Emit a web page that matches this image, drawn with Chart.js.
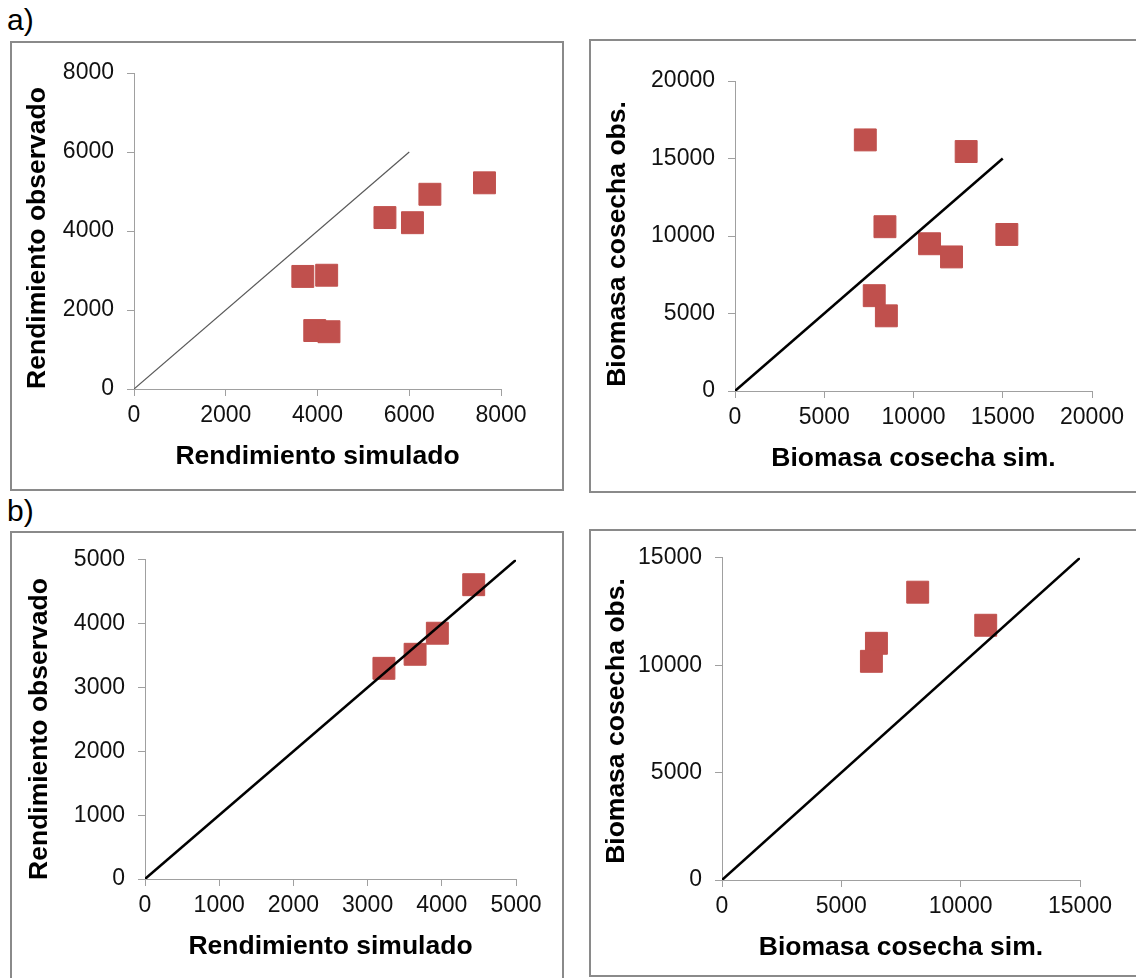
<!DOCTYPE html>
<html>
<head>
<meta charset="utf-8">
<script src="https://cdn.jsdelivr.net/npm/chart.js@4.4.1/dist/chart.umd.min.js"></script>
<style>
  body { margin: 0; width: 1136px; height: 978px; overflow: hidden; background: #fff; position: relative;
         font-family: "Liberation Sans", Arial, sans-serif; }
  canvas { position: absolute; }
  .frame { position: absolute; box-sizing: border-box; border: 2px solid #8a8a8a; pointer-events: none; }
  .tag { position: absolute; font-size: 30px; line-height: 1; color: #000; }
</style>
</head>
<body>
<div class="tag" style="left:7px; top:5px;">a)</div>
<div class="tag" style="left:7px; top:496px;">b)</div>

<script>
// Simulated vs observed values, one pair of arrays per panel
const simA = [3680, 4200, 3940, 4250, 5470, 6070, 6450, 7640];
const obsA = [2850, 2880, 1480, 1450, 4340, 4210, 4930, 5220];

const simB = [7300, 12950, 8400, 10900, 12130, 15230, 7800, 8480];
const obsB = [16200, 15450, 10600, 9500, 8650, 10100, 6150, 4850];

const simC = [3220, 3640, 3940, 4430];
const obsC = [3300, 3520, 3850, 4610];

const simD = [8200, 11050, 6470, 6260];
const obsD = [13400, 11860, 11020, 10180];

// 1:1 reference line extent (start, end) for each panel
const diagA = [0, 6000];
const diagB = [0, 15000];
const diagC = [0, 5000];
const diagD = [0, 15000];

// Axis tick values
const ticksA = [0, 2000, 4000, 6000, 8000];
const ticksB = [0, 5000, 10000, 15000, 20000];
const ticksC = [0, 1000, 2000, 3000, 4000, 5000];
const ticksD = [0, 5000, 10000, 15000];

const yieldX = 'Rendimiento simulado';
const yieldY = 'Rendimiento observado';
const bioX = 'Biomasa cosecha sim.';
const bioY = 'Biomasa cosecha obs.';

const FONT = '"Liberation Sans", Arial, sans-serif';
const TICK_SIZE = 23;
const TITLE_SIZE = 26.5;
const AXIS_GREY = '#a0a0a0';
const MARK_RED = '#C0504D';

// Page layout of the four framed panels (frame box, plot area, axis title centres)
const panels = [
  { sim: simA, obs: obsA, diag: diagA, ticks: ticksA, xTitle: yieldX, yTitle: yieldY,
    frame: { x: 10, y: 41, w: 554, h: 450 },
    box: { x: 12, y: 43, w: 550, h: 446 },
    area: { l: 134, t: 73, r: 501, b: 389 }, yTitlePos: [38, 238], xTitleY: 457,
    lineColor: '#595959', lineWidth: 1.2 },
  { sim: simB, obs: obsB, diag: diagB, ticks: ticksB, xTitle: bioX, yTitle: bioY,
    frame: { x: 589, y: 39, w: 600, h: 454 },
    box: { x: 591, y: 41, w: 545, h: 450 },
    area: { l: 735, t: 81, r: 1092, b: 391 }, yTitlePos: [618, 244], xTitleY: 459,
    lineColor: '#000', lineWidth: 2.5 },
  { sim: simC, obs: obsC, diag: diagC, ticks: ticksC, xTitle: yieldX, yTitle: yieldY,
    frame: { x: 10, y: 531, w: 554, h: 470 },
    box: { x: 12, y: 533, w: 550, h: 445 },
    area: { l: 145, t: 556, r: 516, b: 879 }, yTitlePos: [40, 729], xTitleY: 947,
    lineColor: '#000', lineWidth: 2.5 },
  { sim: simD, obs: obsD, diag: diagD, ticks: ticksD, xTitle: bioX, yTitle: bioY,
    frame: { x: 589, y: 529, w: 600, h: 448 },
    box: { x: 591, y: 531, w: 545, h: 444 },
    area: { l: 722, t: 555, r: 1080, b: 880 }, yTitlePos: [617, 721], xTitleY: 948,
    lineColor: '#000', lineWidth: 2.5 }
];

// Draws the rotated vertical-axis title at a fixed centre
const yTitlePlugin = {
  id: 'yTitle',
  afterDraw(chart, args, opts) {
    const ctx = chart.ctx;
    ctx.save();
    ctx.translate(opts.x, opts.y);
    ctx.rotate(-Math.PI / 2);
    ctx.font = `bold ${TITLE_SIZE}px ${FONT}`;
    ctx.fillStyle = '#000';
    ctx.textAlign = 'center';
    ctx.textBaseline = 'middle';
    ctx.fillText(opts.text, 0, 0);
    ctx.restore();
  }
};

function axis(ticks) {
  return {
    type: 'linear',
    min: ticks[0],
    max: ticks[ticks.length - 1],
    afterBuildTicks: s => { s.ticks = ticks.map(v => ({ value: v })); },
    grid: { drawOnChartArea: false, drawTicks: true, tickLength: 7, color: AXIS_GREY, lineWidth: 1 },
    border: { display: true, color: AXIS_GREY, width: 1 },
  };
}

function buildPanel(p) {
  const cv = document.createElement('canvas');
  cv.width = p.box.w;
  cv.height = p.box.h;
  cv.style.left = p.box.x + 'px';
  cv.style.top = p.box.y + 'px';
  cv.style.width = p.box.w + 'px';
  cv.style.height = p.box.h + 'px';
  document.body.appendChild(cv);

  const fr = document.createElement('div');
  fr.className = 'frame';
  fr.style.left = p.frame.x + 'px';
  fr.style.top = p.frame.y + 'px';
  fr.style.width = p.frame.w + 'px';
  fr.style.height = p.frame.h + 'px';
  document.body.appendChild(fr);

  const lh = TITLE_SIZE * 1.2;
  const yWidth = p.area.l - p.box.x;
  const xHeight = p.box.y + p.box.h - p.area.b;
  const titleFont = { family: FONT, size: TITLE_SIZE, weight: 'bold' };
  const tickFont = { family: FONT, size: TICK_SIZE };

  const xAxis = Object.assign(axis(p.ticks), {
    position: 'bottom',
    ticks: { color: '#111', font: tickFont, padding: 6, maxRotation: 0, callback: v => String(v) },
    title: { display: true, text: p.xTitle, color: '#000', font: titleFont,
             padding: { top: 0, bottom: p.box.h - (p.xTitleY - p.box.y) - lh / 2 } },
    afterFit: s => { s.height = xHeight; }
  });
  const yAxis = Object.assign(axis(p.ticks), {
    position: 'left',
    ticks: { color: '#111', font: tickFont, padding: 13, callback: v => String(v) },
    title: { display: false },
    afterFit: s => { s.width = yWidth; }
  });

  new Chart(cv, {
    type: 'scatter',
    data: {
      datasets: [
        {
          label: '1:1',
          data: [{ x: p.diag[0], y: p.diag[0] }, { x: p.diag[1], y: p.diag[1] }],
          showLine: true,
          borderColor: p.lineColor,
          borderWidth: p.lineWidth,
          pointRadius: 0,
          fill: false
        },
        {
          label: 'obs',
          data: p.sim.map((v, i) => ({ x: v, y: p.obs[i] })),
          showLine: false,
          pointStyle: 'rect',
          pointRadius: 15.5,
          backgroundColor: MARK_RED,
          borderColor: MARK_RED,
          borderWidth: 1
        }
      ]
    },
    options: {
      responsive: false,
      animation: false,
      devicePixelRatio: 1,
      events: [],
      layout: { padding: { left: 0, top: p.area.t - p.box.y, right: p.box.x + p.box.w - p.area.r, bottom: 0 } },
      plugins: {
        legend: { display: false },
        tooltip: { enabled: false },
        yTitle: { text: p.yTitle, x: p.yTitlePos[0] - p.box.x, y: p.yTitlePos[1] - p.box.y }
      },
      scales: { x: xAxis, y: yAxis }
    },
    plugins: [yTitlePlugin]
  });
}

panels.forEach(buildPanel);
</script>
</body>
</html>
